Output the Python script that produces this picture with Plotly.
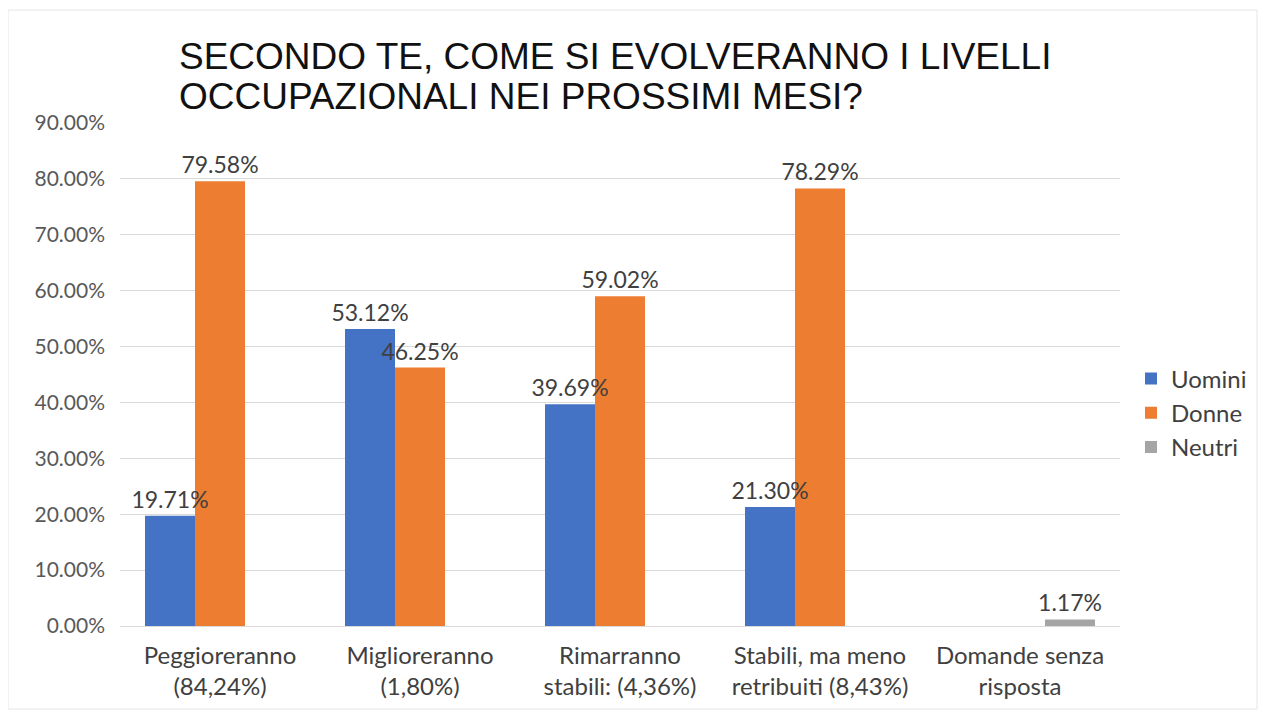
import plotly.graph_objects as go

categories = ["Peggioreranno<br>(84,24%)", "Miglioreranno<br>(1,80%)", "Rimarranno<br>stabili: (4,36%)",
              "Stabili, ma meno<br>retribuiti (8,43%)", "Domande senza<br>risposta"]
uomini = [19.71, 53.12, 39.69, 21.30, None]
donne = [79.58, 46.25, 59.02, 78.29, None]
neutri = [None, None, None, None, 1.17]
tick_vals = [0, 10, 20, 30, 40, 50, 60, 70, 80, 90]
title_lines = ["SECONDO TE, COME SI EVOLVERANNO I LIVELLI", "OCCUPAZIONALI NEI PROSSIMI MESI?"]

FONT = "Lato, Open Sans, sans-serif"
W, H = 1250, 703
L, T, R, B = 112, 115, 138, 85
PW, PH = W - L - R, H - T - B

series = [("Uomini", uomini, "#4472C4"), ("Donne", donne, "#ED7D31"), ("Neutri", neutri, "#A5A5A5")]

fig = go.Figure()
for name, vals, color in series:
    fig.add_trace(go.Bar(
        x=categories, y=vals, name=name, offsetgroup=name,
        marker=dict(color=color, line=dict(width=0)),
    ))
# label layer drawn on top of all bars
for name, vals, color in series:
    fig.add_trace(go.Bar(
        x=categories, y=vals, name=name, offsetgroup=name, showlegend=False, hoverinfo="skip",
        marker=dict(color="rgba(0,0,0,0)", line=dict(width=0)),
        text=[None if v is None else f"{v:.2f}%" for v in vals],
        textposition="outside", cliponaxis=False, constraintext="none",
        textfont=dict(family=FONT, size=23, color="#404040"),
    ))

fig.update_layout(
    width=W, height=H,
    margin=dict(l=L, r=R, t=T, b=B, autoexpand=False),
    paper_bgcolor="white", plot_bgcolor="white",
    barmode="group", bargap=0.25, bargroupgap=0,
    legend=dict(x=(1123 - L)/PW, xanchor="left", y=(618-405)/PH, yanchor="middle",
                font=dict(family=FONT, size=24, color="#404040"),
                tracegroupgap=0, bgcolor="rgba(0,0,0,0)"),
    font=dict(family=FONT),
)
for i, (line, ymid) in enumerate(zip(title_lines, [49, 88.5])):
    fig.add_annotation(text=line, xref="paper", yref="paper",
                       x=(169 - L)/PW, xanchor="left", y=1 + (T - ymid)/PH, yanchor="middle",
                       showarrow=False,
                       font=dict(family="Liberation Sans, Arial, sans-serif", size=37, color="#111111"))
fig.update_xaxes(showline=True, linecolor="#D9D9D9", linewidth=1, ticks="",
                 ticklabelstandoff=8,
                 tickfont=dict(family=FONT, size=24, color="#404040"))
fig.update_yaxes(range=[0, 90], tickvals=tick_vals, ticktext=[f"{v:.2f}%" for v in tick_vals],
                 showgrid=True, gridcolor="#D9D9D9", gridwidth=1, zeroline=False, ticks="",
                 ticklabelstandoff=14,
                 tickfont=dict(family=FONT, size=21, color="#595959"))
fig.add_shape(type="rect", xref="paper", yref="paper",
              x0=-L/PW, x1=(W - L - 1)/PW, y0=-(B - 2)/PH, y1=1 + (T - 2)/PH,
              line=dict(color="#E6E6E6", width=1), layer="below")
fig.write_html("out.html")
